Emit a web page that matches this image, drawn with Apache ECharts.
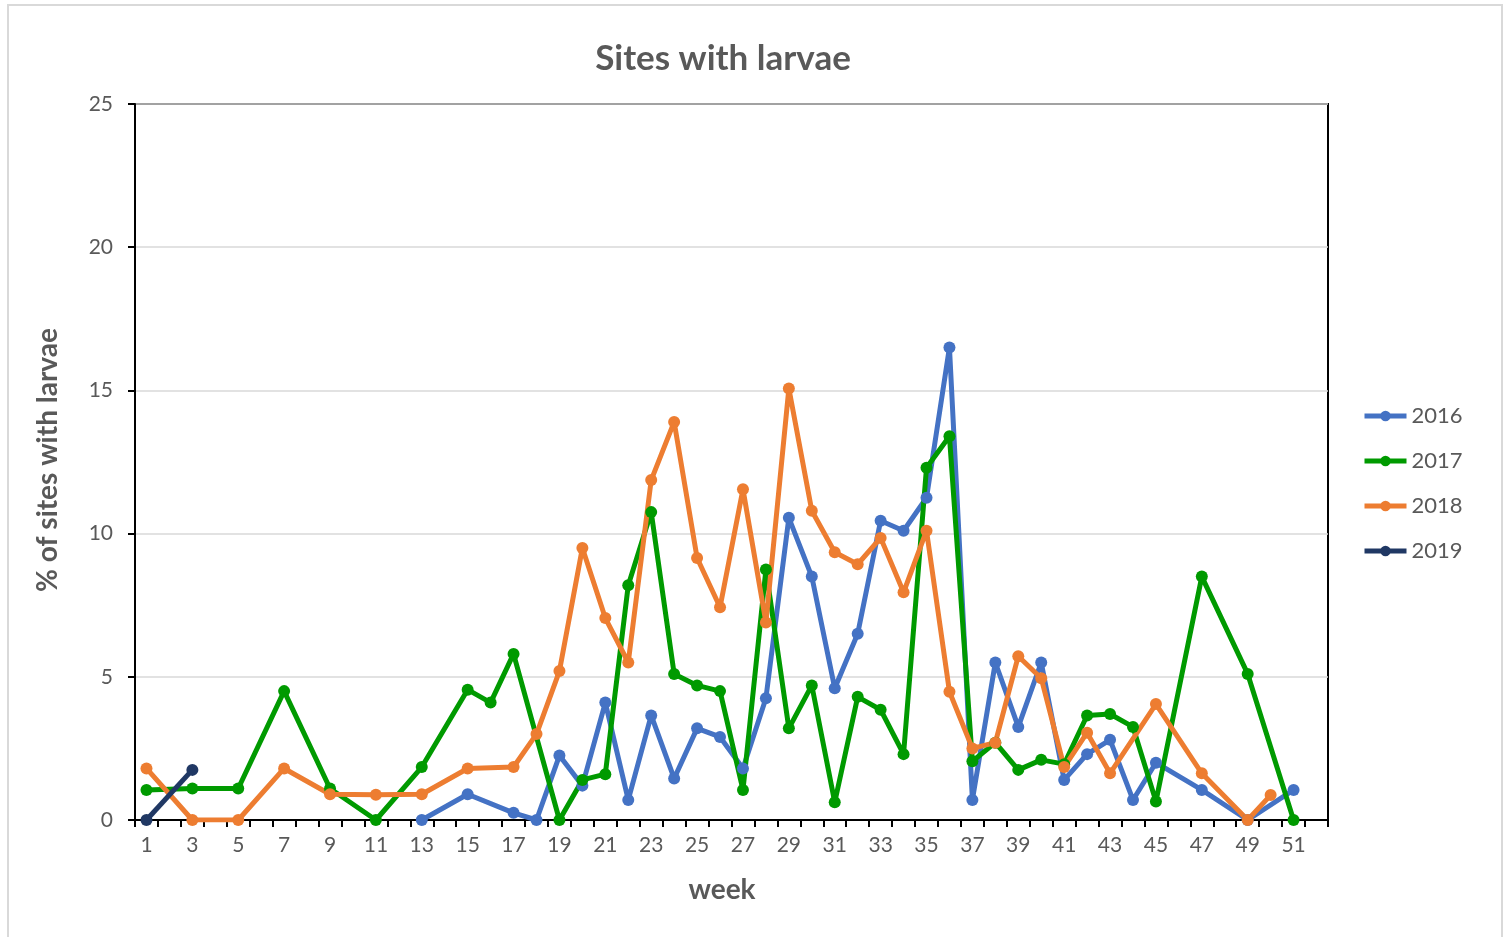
<!DOCTYPE html>
<html>
<head>
<meta charset="utf-8">
<title>Sites with larvae</title>
<script src="https://cdn.jsdelivr.net/npm/echarts@6/dist/echarts.min.js"></script>
<style>
  html, body { margin: 0; padding: 0; background: #ffffff; }
  #chart { width: 1509px; height: 937px; }
</style>
</head>
<body>
<div id="chart"></div>
<script>
// Datos: % de sitios con larvas por semana (null = sin dato)
const weeks = [];
for (let w = 1; w <= 52; w++) weeks.push(String(w));

const y2016 = [
  null, null, null, null, null, null, null, null, null, null, null, null,
  0, null, 0.9, null, 0.25, 0, 2.25, 1.2, 4.1, 0.7, 3.65, 1.45, 3.2, 2.9,
  1.8, 4.25, 10.55, 8.5, 4.6, 6.5, 10.45, 10.1, 11.25, 16.5, 0.7, 5.5, 3.25,
  5.5, 1.4, 2.3, 2.8, 0.7, 2.0, null, 1.05, null, 0, null, 1.05, null,
];
const y2017 = [
  1.05, null, 1.1, null, 1.1, null, 4.5, null, 1.1, null, 0, null, 1.85,
  null, 4.55, 4.1, 5.8, null, 0, 1.4, 1.6, 8.2, 10.75, 5.1, 4.7, 4.5, 1.05,
  8.75, 3.2, 4.7, 0.62, 4.3, 3.85, 2.3, 12.3, 13.4, 2.05, 2.7, 1.75, 2.1,
  1.95, 3.65, 3.7, 3.25, 0.65, null, 8.5, null, 5.1, null, 0, null,
];
const y2018 = [
  1.8, null, 0, null, 0, null, 1.8, null, 0.9, null, 0.88, null, 0.9, null,
  1.8, null, 1.85, 3.0, 5.2, 9.5, 7.05, 5.5, 11.87, 13.9, 9.15, 7.43, 11.55,
  6.9, 15.07, 10.8, 9.35, 8.93, 9.85, 7.95, 10.1, 4.48, 2.5, 2.7, 5.72, 4.95,
  1.85, 3.05, 1.63, null, 4.05, null, 1.63, null, 0, 0.87, null, null,
];
const y2019 = [0, null, 1.75];

const yTicks = [0, 5, 10, 15, 20, 25];

const TEXT = "#595959";
const FONT = "Lato, 'Open Sans', sans-serif";

function lineSeries(name, data, color) {
  return {
    name: name,
    type: "line",
    data: data,
    connectNulls: true,
    symbol: "circle",
    symbolSize: 12,
    lineStyle: { width: 5, color: color },
    itemStyle: { color: color },
    emphasis: { disabled: true },
    animation: false,
  };
}

const chart = echarts.init(document.getElementById("chart"));

chart.setOption({
  backgroundColor: "#ffffff",
  textStyle: { fontFamily: FONT },
  grid: {
    left: 135,
    right: 181,
    top: 104,
    bottom: 117,
    show: true,
    borderColor: "#000000",
    borderWidth: 2,
  },
  legend: {
    orient: "vertical",
    left: 1357,
    top: 400,
    itemWidth: 42,
    itemHeight: 13,
    itemGap: 23,
    lineStyle: { width: 5 },
    textStyle: { fontSize: 22, color: TEXT, fontFamily: FONT, lineHeight: 22 },
    data: ["2016", "2017", "2018", "2019"],
  },
  xAxis: {
    type: "category",
    data: weeks,
    boundaryGap: true,
    axisLine: { lineStyle: { color: "#000000", width: 2 } },
    axisTick: { show: true, interval: 0, length: 7, lineStyle: { color: "#000000", width: 2 } },
    axisLabel: { interval: 1, color: TEXT, fontSize: 21, fontFamily: FONT, margin: 15 },
    splitLine: { show: false },
  },
  yAxis: {
    type: "value",
    min: yTicks[0],
    max: yTicks[yTicks.length - 1],
    interval: 5,
    axisLine: { show: true, lineStyle: { color: "#000000", width: 2 } },
    axisTick: { show: true, length: 7, lineStyle: { color: "#000000", width: 2 } },
    axisLabel: { color: TEXT, fontSize: 21, fontFamily: FONT, margin: 22 },
    splitLine: { lineStyle: { color: "#d9d9d9", width: 1.5 } },
  },
  graphic: [
    {
      type: "rect",
      silent: true,
      shape: { x: 8, y: 5, width: 1494, height: 945 },
      style: { fill: null, stroke: "#d9d9d9", lineWidth: 2 },
    },
    {
      type: "text",
      x: 723,
      y: 59,
      style: {
        text: "Sites with larvae",
        fill: TEXT,
        font: "bold 35px " + FONT,
        textAlign: "center",
        textVerticalAlign: "middle",
      },
    },
    {
      type: "text",
      x: 722,
      y: 890,
      style: {
        text: "week",
        fill: TEXT,
        font: "bold 28px " + FONT,
        textAlign: "center",
        textVerticalAlign: "middle",
      },
    },
    {
      type: "text",
      x: 48,
      y: 460,
      rotation: Math.PI / 2,
      style: {
        text: "% of sites with larvae",
        fill: TEXT,
        font: "bold 28px " + FONT,
        textAlign: "center",
        textVerticalAlign: "middle",
      },
    },
  ],
  series: [
    lineSeries("2016", y2016, "#4472C4"),
    lineSeries("2017", y2017, "#009A00"),
    lineSeries("2018", y2018, "#ED7D31"),
    lineSeries("2019", y2019, "#203864"),
  ],
});
</script>
</body>
</html>
